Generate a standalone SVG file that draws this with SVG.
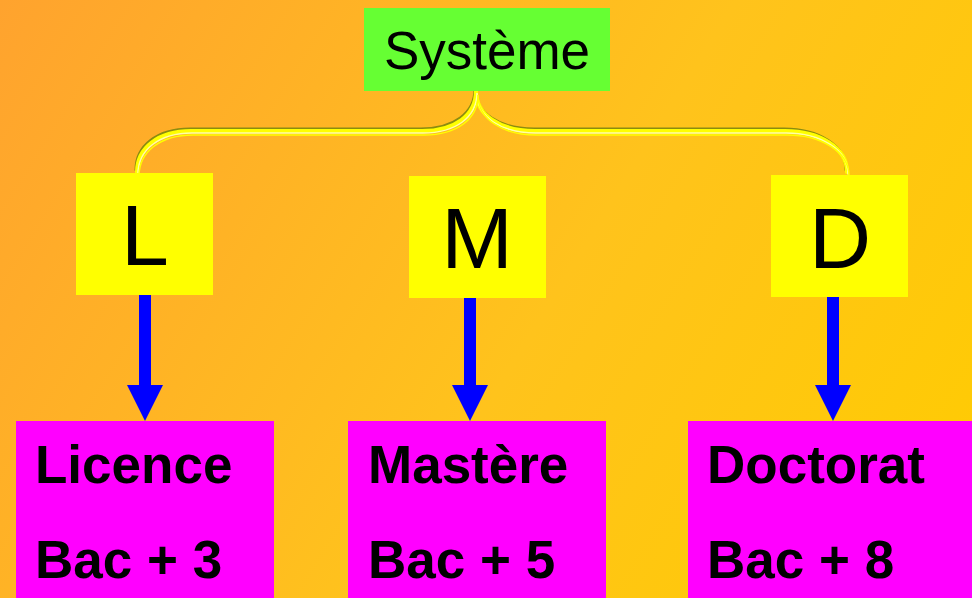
<svg xmlns="http://www.w3.org/2000/svg" width="972" height="598" viewBox="0 0 972 598">
<defs>
<linearGradient id="bg" x1="0" y1="0" x2="972" y2="598" gradientUnits="userSpaceOnUse">
<stop offset="0" stop-color="#ffa32e"/>
<stop offset="0.55" stop-color="#ffc31c"/>
<stop offset="1" stop-color="#ffcc00"/>
</linearGradient>
<path id="brace" d="M137,172 C137,148 158,131 191,131 H422 C455,131 476,115 476,91 C476,115 500,131 535,131 H785 C820,131 847,148 847,172"/>
</defs>
<style>
.lt{font-family:"Liberation Sans",Arial,sans-serif;font-size:86px;fill:#000;text-anchor:middle}
.bt{font-family:"Liberation Sans",Arial,sans-serif;font-size:53px;font-weight:bold;fill:#000}
.st{font-family:"Liberation Sans",Arial,sans-serif;font-size:53px;fill:#000;text-anchor:middle}
.yb{fill:#ffff00}
.mb{fill:#ff00ff}
.ar{fill:#0000ff}
</style>
<rect x="0" y="0" width="972" height="598" fill="url(#bg)"/>
<g id="connectors">
<g fill="none" stroke-linecap="round">
<use href="#brace" stroke="#8c8c10" stroke-width="3" transform="translate(-1,-2)"/>
<use href="#brace" stroke="#ffff00" stroke-width="4"/>
<use href="#brace" stroke="#ffffa8" stroke-width="1.5" transform="translate(1,2)"/>
<use href="#brace" stroke="#ffff00" stroke-width="1.5" transform="translate(2,4)"/>
</g>
<path class="ar" d="M139,295 H151 V385 H163 L145,421 L127,385 H139 Z"/>
<path class="ar" d="M464,298 H476 V385 H488 L470,421 L452,385 H464 Z"/>
<path class="ar" d="M827,297 H839 V385 H851 L833,421 L815,385 H827 Z"/>
</g>
<g id="systeme">
<rect x="364" y="8" width="246" height="83" fill="#66ff33"/>
<text class="st" x="487" y="69">Système</text>
</g>
<g id="L">
<rect class="yb" x="76" y="173" width="137" height="122"/>
<text class="lt" x="145" y="265">L</text>
</g>
<g id="M">
<rect class="yb" x="409" y="176" width="137" height="122"/>
<text class="lt" x="477" y="268">M</text>
</g>
<g id="D">
<rect class="yb" x="771" y="175" width="137" height="122"/>
<text class="lt" x="840" y="268">D</text>
</g>
<g id="licence">
<rect class="mb" x="16" y="421" width="258" height="177"/>
<text class="bt" x="35" y="483">Licence</text>
<text class="bt" x="35" y="578">Bac + 3</text>
</g>
<g id="mastere">
<rect class="mb" x="348" y="421" width="258" height="177"/>
<text class="bt" x="368" y="483">Mastère</text>
<text class="bt" x="368" y="578">Bac + 5</text>
</g>
<g id="doctorat">
<rect class="mb" x="688" y="421" width="284" height="177"/>
<text class="bt" x="707" y="483">Doctorat</text>
<text class="bt" x="707" y="578">Bac + 8</text>
</g>
</svg>
